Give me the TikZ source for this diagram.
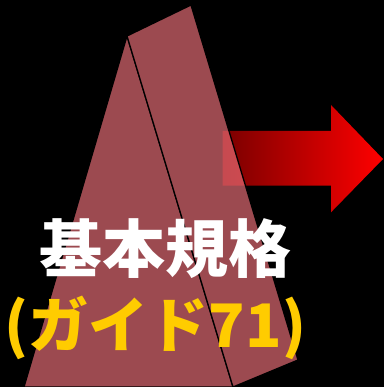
\documentclass[tikz,border=0pt]{standalone}
\usepackage{xcolor}
\usepackage{fontspec}
\newfontfamily\jpfont{Noto Sans CJK JP}
\usepackage{tikz}
\usetikzlibrary{positioning}
\definecolor{myrose}{RGB}{240,115,123}
\definecolor{mydark}{RGB}{122,0,0}
\definecolor{myyellow}{RGB}{255,204,0}
\tikzstyle{face} = [fill=myrose, fill opacity=0.65, draw=black, line width=1.3pt, line join=round]
\tikzstyle{bigarrow} = [left color=mydark, right color=red]
\tikzstyle{title} = [text=white, inner sep=0pt, font=\jpfont\bfseries\fontsize{63}{66}\selectfont]
\tikzstyle{subtitle} = [text=myyellow, inner sep=0pt, font=\jpfont\bfseries\fontsize{60}{64}\selectfont]

\begin{document}
\begin{tikzpicture}[x=1pt,y=-1pt]
        % background
        \fill[black] (0,0) rectangle (384,387);
        \useasboundingbox (0,0) rectangle (384,387);
        % arrow
        \shade[bigarrow] (222.7,131) -- (331,131) -- (331,105) -- (383,159)
            -- (331,212.3) -- (331,185.7) -- (222.7,185.7) -- cycle;
        % pyramid
        \begin{scope}
            \clip (0,0) rectangle (384,387);
            \draw[face] (127,36) -- (24,387) -- (233,387) -- cycle;
            \draw[face] (127,36) -- (191,5) -- (298,360) -- (233,387) -- cycle;
        \end{scope}
        % labels
        \node[title] (kihon) at (165,249) {基本規格};
        \node[subtitle] (guide) at (155.5,328) {(ガイド71)};
    \end{tikzpicture}
\end{document}
